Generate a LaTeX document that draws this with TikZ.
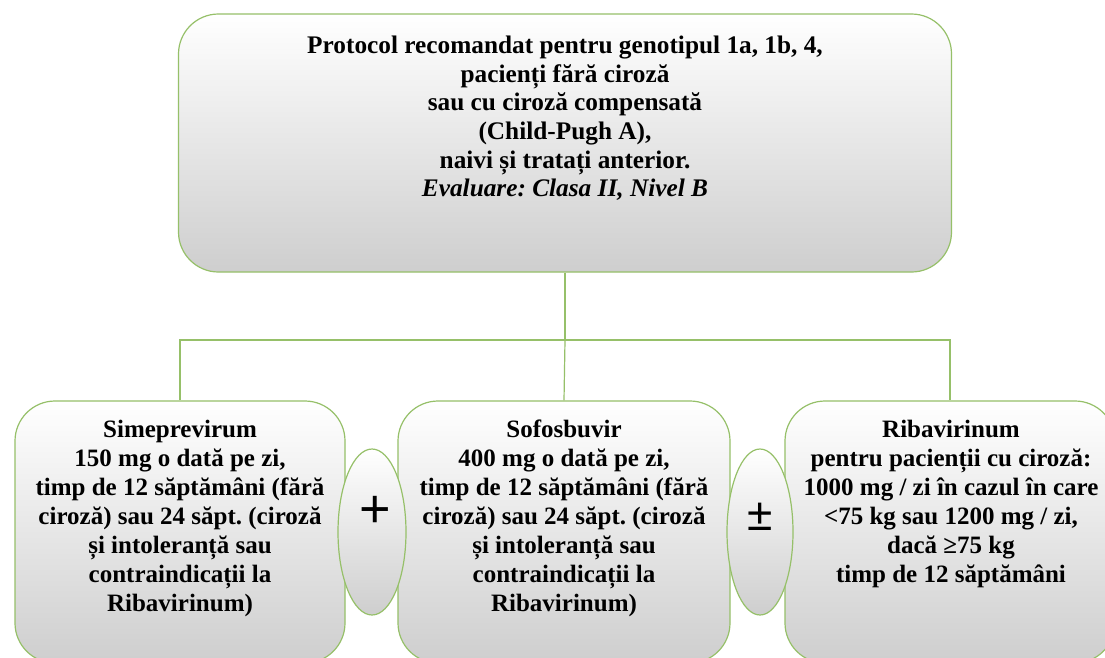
\documentclass[tikz,border=0pt]{standalone}
\usepackage{fontspec}
\setmainfont{Liberation Serif}
\newfontfamily\symfont{Liberation Sans}
\definecolor{edgegreen}{RGB}{150,192,105}
\definecolor{boxgray}{RGB}{206,206,206}
\tikzset{
  box/.style={draw=edgegreen, line width=1.2pt, rounded corners=40pt,
    top color=white, bottom color=boxgray, inner sep=0pt},
  oval/.style={ellipse, draw=edgegreen, line width=1.2pt,
    top color=white, bottom color=boxgray, inner sep=0pt},
  conn/.style={draw=edgegreen, line width=1.2pt},
  toptext/.style={align=center, inner sep=0pt, anchor=north,
    font=\fontsize{25.3}{28.6}\selectfont\bfseries\frenchspacing},
  boxtext/.style={align=center, inner sep=0pt, anchor=north,
    font=\fontsize{25}{29}\selectfont\bfseries\frenchspacing},
  symtext/.style={inner sep=0pt}
}
\usetikzlibrary{shapes.geometric}
\begin{document}
\begin{tikzpicture}[x=1pt,y=-1pt]
\useasboundingbox (0,0) rectangle (1105,657);
\clip (0,0) rectangle (1105,657);
\fill[white] (0,0) rectangle (1105,657);
% boxes
\node[box, minimum width=773pt, minimum height=258pt] (top) at (565,143) {};
\node[box, minimum width=330pt, minimum height=262pt] (b1) at (180,532) {};
\node[box, minimum width=332pt, minimum height=262pt] (b2) at (564,532) {};
\node[box, minimum width=330pt, minimum height=262pt] (b3) at (950,532) {};
\node[oval, minimum width=68pt, minimum height=166pt] (e1) at (372,532) {};
\node[oval, minimum width=66pt, minimum height=166pt] (e2) at (760,532) {};
% connectors
\coordinate (bus) at (565,340);
\draw[conn] (top.south) -- (bus);
\draw[conn] (b1.north) |- (bus) -| (b3.north);
\draw[conn] (bus) -- (b2.north);
% texts
\node[toptext] (ttop) at (565,36) {Protocol recomandat pentru genotipul 1a, 1b, 4,\\
pacienți fără ciroză\\
sau cu ciroză compensată\\
(Child-Pugh A),\\
naivi și tratați anterior.\\
{\itshape Evaluare: Clasa II, Nivel B}};
\node[boxtext] (t1) at (180,420) {Simeprevirum\\
150 mg o dată pe zi,\\
timp de 12 săptămâni (fără\\
ciroză) sau 24 săpt. (ciroză\\
și intoleranță sau\\
contraindicații la\\
Ribavirinum)};
\node[boxtext] (t2) at (564,420) {Sofosbuvir\\
400 mg o dată pe zi,\\
timp de 12 săptămâni (fără\\
ciroză) sau 24 săpt. (ciroză\\
și intoleranță sau\\
contraindicații la\\
Ribavirinum)};
\node[boxtext] (t3) at (951,420) {Ribavirinum\\
pentru pacienții cu ciroză:\\
1000 mg / zi în cazul în care\\
<75 kg sau 1200 mg / zi,\\
dacă ≥75 kg\\
timp de 12 săptămâni};
\node[symtext, font=\symfont\fontsize{54}{54}\selectfont] (s1) at (375,512) {+};
\node[symtext, font=\symfont\fontsize{46}{46}\selectfont] (s2) at (760,517) {±};
\end{tikzpicture}
\end{document}
